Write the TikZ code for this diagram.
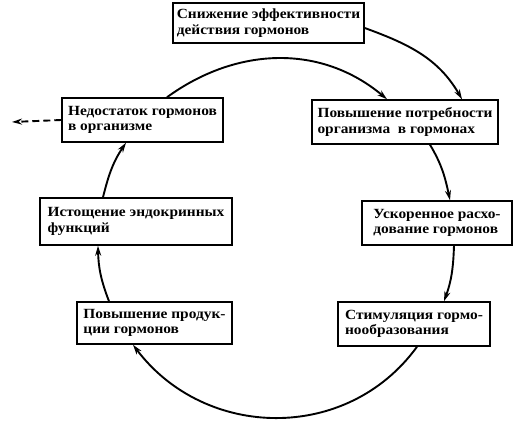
\documentclass[tikz,border=0pt]{standalone}
\usepackage{fontspec}
\setmainfont{Liberation Serif}[FakeStretch=1.1]
\usetikzlibrary{arrows.meta, positioning}

\tikzset{
  box/.style={draw, line width=1.5pt, align=left, inner xsep=0pt, inner ysep=0pt,
    font=\bfseries\fontsize{14}{15.5}\selectfont},
  link/.style={line width=1.9pt, -{Stealth[length=10pt, width=6pt]}},
}

\begin{document}
\begin{tikzpicture}[x=1pt, y=1pt]
        \useasboundingbox (0,0) rectangle (516,423);

        % Boxes of the cycle
        \node[box, minimum width=191pt, minimum height=40pt] (lowef) at (268.5,400) {Снижение эффективности\\действия гормонов};
        \node[box, minimum width=161pt, minimum height=44pt] (lack) at (142.5,303) {Недостаток гормонов\\в организме};
        \node[box, minimum width=186pt, minimum height=44pt] (need) at (405,301) {Повышение потребности\\организма\ \ в гормонах};
        \node[box, minimum width=192pt, minimum height=47pt] (exh) at (136,201.5) {Истощение эндокринных\\функций};
        \node[box, minimum width=150pt, minimum height=44pt] (rapid) at (437,200) {Ускоренное расхо-\\дование гормонов};
        \node[box, minimum width=155pt, minimum height=42pt] (prod) at (154.5,100) {Повышение продук-\\ции гормонов};
        \node[box, minimum width=152pt, minimum height=44pt] (stim) at (414,99) {Стимуляция гормо-\\нообразования};
        \coordinate (away) at (12,301);

        % Arrows round the circle
        \draw[link] ([yshift=-5pt]lowef.east) to[out=-20, in=120] ([xshift=57pt]need.north);
        \draw[link] ([xshift=24.5pt]lack.north) to[out=36, in=140] ([xshift=-18pt]need.north);
        \draw[link] ([xshift=25pt]need.south) to[out=-59, in=102] ([xshift=13pt]rapid.north);
        \draw[link] ([xshift=17pt]rapid.south) to[out=-92, in=70] ([xshift=30pt]stim.north);
        \draw[link] ([xshift=3pt]stim.south) to[out=-126, in=-53, looseness=1.07] ([xshift=-21.5pt]prod.south);
        \draw[link] ([xshift=-45.5pt]prod.north) to[out=111, in=-89] ([xshift=-38pt]exh.south);
        \draw[link] ([xshift=-33pt]exh.north) to[out=76, in=-124] ([xshift=-16.5pt]lack.south);
        \draw[link, dash pattern=on 7pt off 4pt] (lack.west) -- (away);

\end{tikzpicture}
\end{document}
